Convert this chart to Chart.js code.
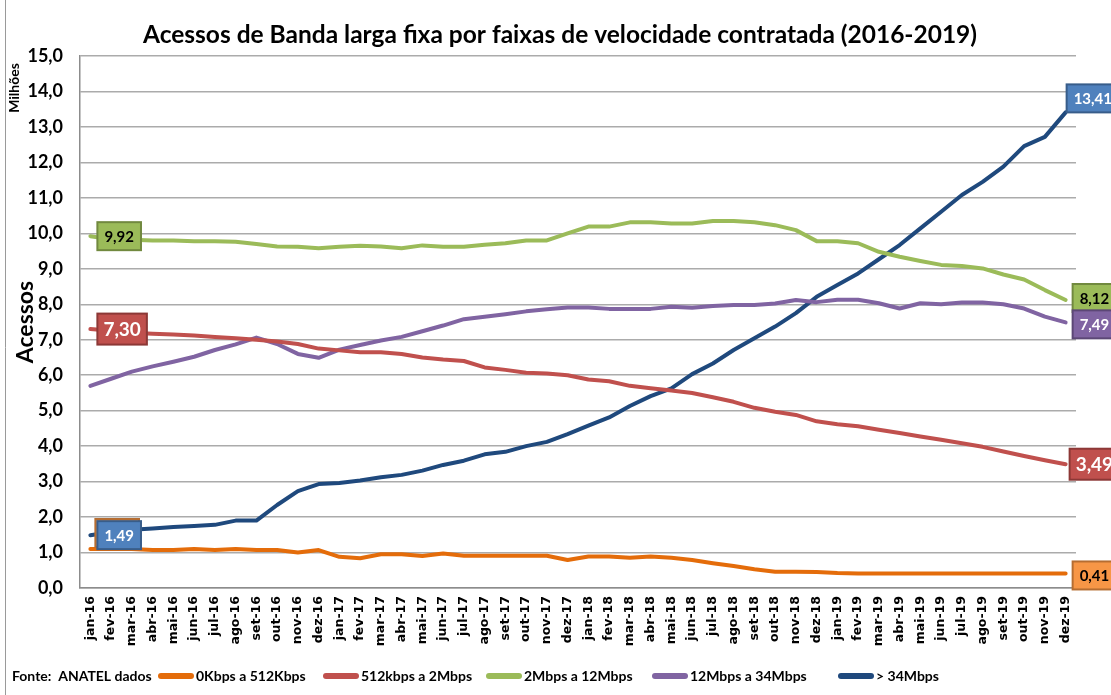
<!DOCTYPE html>
<html>
<head>
<meta charset="utf-8">
<script src="https://cdn.jsdelivr.net/npm/chart.js@4.4.1/dist/chart.umd.min.js"></script>
<style>
  html, body { margin: 0; padding: 0; background: #fff; }
  #wrap { width: 1111px; height: 695px; position: relative; }
</style>
</head>
<body>
<div id="wrap"><canvas id="chart"></canvas></div>
<script>
const months = [
  'jan-16','fev-16','mar-16','abr-16','mai-16','jun-16','jul-16','ago-16','set-16','out-16','nov-16','dez-16',
  'jan-17','fev-17','mar-17','abr-17','mai-17','jun-17','jul-17','ago-17','set-17','out-17','nov-17','dez-17',
  'jan-18','fev-18','mar-18','abr-18','mai-18','jun-18','jul-18','ago-18','set-18','out-18','nov-18','dez-18',
  'jan-19','fev-19','mar-19','abr-19','mai-19','jun-19','jul-19','ago-19','set-19','out-19','nov-19','dez-19'
];

const seriesNames = ['0Kbps a 512Kbps', '512kbps a 2Mbps', '2Mbps a 12Mbps', '12Mbps a 34Mbps', '> 34Mbps'];
const chartTitle = 'Acessos de Banda larga fixa por faixas de velocidade contratada (2016-2019)';

// milhões de acessos
const ate512k = [1.10,1.10,1.10,1.07,1.07,1.10,1.07,1.10,1.07,1.07,1.00,1.07,
                 0.88,0.84,0.95,0.95,0.90,0.97,0.91,0.91,0.91,0.91,0.91,0.79,
                 0.89,0.89,0.85,0.89,0.85,0.79,0.70,0.62,0.53,0.46,0.46,0.45,
                 0.42,0.41,0.41,0.41,0.41,0.41,0.41,0.41,0.41,0.41,0.41,0.41];
const de512kA2m = [7.30,7.25,7.20,7.17,7.15,7.12,7.08,7.04,7.00,6.95,6.88,6.75,
                   6.70,6.65,6.65,6.60,6.50,6.44,6.40,6.22,6.15,6.07,6.05,6.00,
                   5.88,5.83,5.70,5.63,5.57,5.50,5.38,5.25,5.08,4.97,4.88,4.70,
                   4.62,4.56,4.46,4.37,4.27,4.18,4.08,3.98,3.85,3.72,3.60,3.49];
const de2mA12m = [9.92,9.83,9.82,9.80,9.80,9.78,9.78,9.76,9.70,9.63,9.62,9.58,
                  9.62,9.65,9.63,9.58,9.66,9.62,9.62,9.68,9.72,9.80,9.80,10.00,
                  10.19,10.19,10.31,10.31,10.28,10.28,10.35,10.35,10.31,10.23,10.09,9.78,
                  9.78,9.72,9.48,9.34,9.22,9.11,9.08,9.01,8.84,8.70,8.40,8.12];
const de12mA34m = [5.70,5.90,6.10,6.25,6.38,6.52,6.71,6.87,7.06,6.88,6.60,6.49,
                   6.72,6.85,6.98,7.08,7.24,7.40,7.58,7.65,7.72,7.80,7.86,7.91,
                   7.91,7.87,7.87,7.87,7.93,7.90,7.95,7.98,7.98,8.02,8.12,8.06,
                   8.13,8.13,8.03,7.88,8.03,8.00,8.05,8.05,8.00,7.88,7.65,7.49];
const acima34m = [1.49,1.58,1.64,1.68,1.72,1.75,1.78,1.90,1.90,2.34,2.73,2.93,
                  2.96,3.03,3.12,3.19,3.31,3.47,3.59,3.77,3.84,4.00,4.12,4.34,
                  4.58,4.81,5.13,5.41,5.63,6.03,6.33,6.71,7.04,7.37,7.75,8.21,
                  8.54,8.87,9.27,9.67,10.14,10.61,11.08,11.45,11.88,12.46,12.72,13.41];

const lineColors = ['#E46C0A', '#C0504D', '#9BBB59', '#8064A2', '#1F497D'];
const boxFill    = ['#F79646', '#C0504D', '#9BBB59', '#8064A2', '#4F81BD'];
const boxBorder  = ['#B66D31', '#8C3836', '#71893F', '#5C4776', '#385D8A'];
const boxText    = ['#000', '#fff', '#000', '#fff', '#fff'];
const boxFont    = [15, 19, 15, 15, 15];
const hasStart   = [true, true, true, false, true];
// pequenos deslocamentos das etiquetas (como no original)
const startShift = [[-2, -16], [0, 0], [0, 0], [0, 0], [0, 0]];
const endShift   = [[0, 2], [-3, 0], [0, -2], [0, 2], [-6, -14]];

const FONT = 'Lato, "Open Sans", sans-serif';
const fmt = v => v.toFixed(2).replace('.', ',');

const allSeries = [ate512k, de512kA2m, de2mA12m, de12mA34m, acima34m];

const datasets = allSeries.map((data, i) => ({
  label: seriesNames[i],
  data,
  borderColor: lineColors[i],
  backgroundColor: lineColors[i],
  borderWidth: 4,
  borderCapStyle: 'round',
  borderJoinStyle: 'round',
  pointRadius: 0,
  tension: 0,
  fill: false
}));

function drawBox(ctx, x, y, text, i) {
  ctx.font = `bold ${boxFont[i]}px ${FONT}`;
  const w = ctx.measureText(text).width + (i === 1 ? 12 : 14);
  const h = i === 1 ? 31 : 28;
  ctx.fillStyle = boxFill[i];
  ctx.fillRect(x, y - h / 2, w, h);
  ctx.lineWidth = 2;
  ctx.strokeStyle = boxBorder[i];
  ctx.strokeRect(x, y - h / 2, w, h);
  ctx.fillStyle = boxText[i];
  ctx.textAlign = 'center';
  ctx.textBaseline = 'middle';
  ctx.fillText(text, x + w / 2, y + 1);
}

const valueBoxes = {
  id: 'valueBoxes',
  afterDatasetsDraw(chart) {
    const ctx = chart.ctx;
    ctx.save();
    chart.data.datasets.forEach((ds, i) => {
      const pts = chart.getDatasetMeta(i).data;
      const first = pts[0], last = pts[pts.length - 1];
      if (hasStart[i]) {
        drawBox(ctx, first.x + 7 + startShift[i][0], first.y + startShift[i][1], fmt(ds.data[0]), i);
      }
      drawBox(ctx, last.x + 7 + endShift[i][0], last.y + endShift[i][1], fmt(ds.data[ds.data.length - 1]), i);
    });
    ctx.restore();
  }
};

const extras = {
  id: 'extras',
  beforeDraw(chart) {
    const ctx = chart.ctx;
    ctx.save();
    ctx.fillStyle = '#fff';
    ctx.fillRect(0, 0, chart.width, chart.height);
    ctx.strokeStyle = '#9a9a9a';
    ctx.lineWidth = 1;
    ctx.beginPath();
    ctx.moveTo(5.5, 0);
    ctx.lineTo(5.5, chart.height);
    ctx.stroke();
    ctx.restore();
  },
  afterDraw(chart) {
    const ctx = chart.ctx;

    // título
    ctx.save();
    ctx.fillStyle = '#000';
    ctx.font = `bold 24.5px ${FONT}`;
    ctx.textAlign = 'center';
    ctx.textBaseline = 'middle';
    ctx.fillText(chartTitle, 560, 35);
    ctx.restore();

    // unidade do eixo
    ctx.save();
    ctx.fillStyle = '#000';
    ctx.font = `bold 14px ${FONT}`;
    ctx.translate(14, 88);
    ctx.rotate(-Math.PI / 2);
    ctx.textAlign = 'center';
    ctx.textBaseline = 'middle';
    ctx.fillText('Milhões', 0, 0);
    ctx.restore();

    // legenda
    ctx.save();
    const ly = 676;
    ctx.font = `bold 14px ${FONT}`;
    ctx.textBaseline = 'middle';
    ctx.textAlign = 'left';
    ctx.fillStyle = '#000';
    ctx.fillText('Fonte:  ANATEL dados', 12, ly);
    const swX = [161, 326, 489, 655, 841];
    seriesNames.forEach((name, i) => {
      ctx.strokeStyle = lineColors[i];
      ctx.lineWidth = 6;
      ctx.lineCap = 'round';
      ctx.beginPath();
      ctx.moveTo(swX[i], ly);
      ctx.lineTo(swX[i] + 30, ly);
      ctx.stroke();
      ctx.fillStyle = '#000';
      ctx.fillText(name, swX[i] + 35, ly);
    });
    ctx.restore();
  }
};

new Chart(document.getElementById('chart'), {
  type: 'line',
  data: { labels: months, datasets },
  options: {
    responsive: true,
    maintainAspectRatio: false,
    animation: false,
    layout: { padding: { top: 56, right: 35, bottom: 40, left: 0 } },
    plugins: {
      legend: { display: false },
      tooltip: { enabled: false },
      title: { display: false }
    },
    scales: {
      x: {
        offset: true,
        grid: { display: false, drawTicks: false },
        border: { display: true, color: '#8c8c8c', width: 1.5 },
        ticks: {
          autoSkip: false,
          minRotation: 90,
          maxRotation: 90,
          padding: 8,
          color: '#000',
          font: { family: '"DejaVu Sans", sans-serif', size: 12.5, weight: 'bold' }
        },
        afterFit(scale) { scale.height = 67; }
      },
      y: {
        min: 0,
        max: 15,
        grid: { color: '#ababab', lineWidth: 1.5, drawTicks: false },
        border: { display: true, color: '#8c8c8c', width: 1.5 },
        ticks: {
          stepSize: 1,
          padding: 17,
          color: '#000',
          font: { family: FONT, size: 18, weight: 'bold' },
          callback: v => v.toFixed(1).replace('.', ',')
        },
        title: {
          display: true,
          text: 'Acessos',
          color: '#000',
          font: { family: FONT, size: 23, weight: 'bold' },
          padding: { top: 12, bottom: 0 }
        },
        afterFit(scale) { scale.width = 80; }
      }
    }
  },
  plugins: [extras, valueBoxes]
});
</script>
</body>
</html>
